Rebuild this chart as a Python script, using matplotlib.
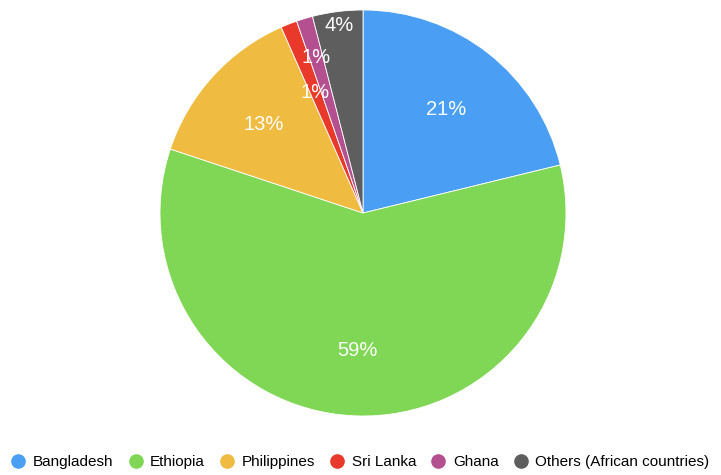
import numpy as np
import matplotlib
matplotlib.use('Agg')
from matplotlib import pyplot as plt
from matplotlib.lines import Line2D

# Share of workers by country of origin (percent)
countries = ['Bangladesh', 'Ethiopia', 'Philippines', 'Sri Lanka', 'Ghana',
             'Others (African countries)']
shares = [21.2, 58.9, 13.3, 1.3, 1.3, 4.0]
colors = ['#4a9ff5', '#80d655', '#f0bb41', '#e8392a', '#b4508f', '#5e5e5e']
# radial position of each percentage label, as a fraction of the radius
label_r = [0.66, 0.67, 0.66, 0.65, 0.81, 0.94]

plt.rcParams['font.family'] = ['Liberation Sans', 'DejaVu Sans']

W, H = 721, 475
fig = plt.figure(figsize=(W / 100, H / 100), dpi=100)
cx, cy, r = 363, 213, 203
ax = fig.add_axes([(cx - r) / W, (H - cy - r) / H, 2 * r / W, 2 * r / H])

wedges, _ = ax.pie(shares, colors=colors, startangle=90, counterclock=False,
                   radius=1.0,
                   wedgeprops=dict(edgecolor='white', linewidth=0.6))
ax.set_xlim(-1, 1)
ax.set_ylim(-1, 1)
ax.set_aspect('equal')
ax.axis('off')

for w, val, rr in zip(wedges, shares, label_r):
    mid = np.deg2rad((w.theta1 + w.theta2) / 2.0)
    ax.text(rr * np.cos(mid), rr * np.sin(mid) - 0.01, '%d%%' % round(val),
            ha='center', va='center', color='white', fontsize=14.5)

handles = [Line2D([], [], marker='o', linestyle='none', markersize=9.5,
                  markerfacecolor=c, markeredgecolor=c) for c in colors]
fig.legend(handles, countries, loc='center', bbox_to_anchor=(0.5, 1 - 462 / H),
           ncol=6, frameon=False, fontsize=11, handletextpad=0.5,
           columnspacing=1.0, handlelength=0.9)

fig.savefig('out.png', dpi=100)
